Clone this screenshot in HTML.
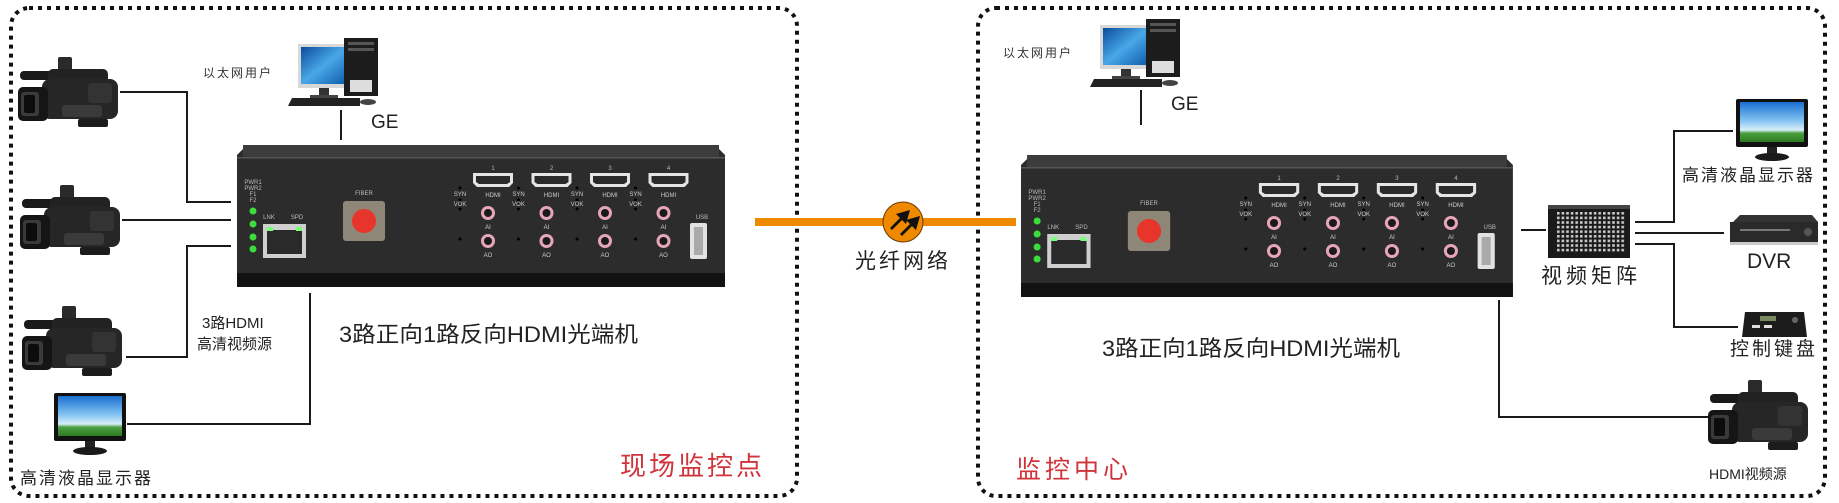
<!DOCTYPE html>
<html><head><meta charset="utf-8"><style>
html,body{margin:0;padding:0;background:#fff;width:1839px;height:503px;overflow:hidden}
svg{display:block}
text{font-family:"Liberation Sans","Noto Sans CJK SC",sans-serif}
.cn{font-family:"Liberation Sans","Noto Sans CJK SC",sans-serif}
</style></head><body>
<svg width="1839" height="503" viewBox="0 0 1839 503" xmlns="http://www.w3.org/2000/svg">
<defs>
<linearGradient id="sky" x1="0" y1="0" x2="0" y2="1">
<stop offset="0" stop-color="#1a6fd0"/><stop offset="0.45" stop-color="#7fc0f0"/><stop offset="0.7" stop-color="#d8eefa"/><stop offset="0.78" stop-color="#4aa040"/><stop offset="1" stop-color="#2d7a20"/>
</linearGradient>
<linearGradient id="pcs" x1="0" y1="0" x2="1" y2="1">
<stop offset="0" stop-color="#0b4c9a"/><stop offset="0.5" stop-color="#49a8e8"/><stop offset="1" stop-color="#0d5aa8"/>
</linearGradient>
<pattern id="dots" x="1557" y="212" width="4.6" height="4.6" patternUnits="userSpaceOnUse"><rect width="2.6" height="2.6" fill="#c8c8c8"/></pattern>
<g id="cam">
<rect x="2" y="14" width="34" height="9" rx="4" fill="#1a1a1a"/>
<rect x="40" y="0" width="14" height="20" rx="2" fill="#2a2a2a"/>
<rect x="30" y="12" width="60" height="16" rx="5" fill="#222"/>
<rect x="24" y="22" width="76" height="40" rx="8" fill="#262626"/>
<rect x="0" y="30" width="30" height="34" rx="5" fill="#151515"/>
<rect x="3" y="35" width="18" height="24" rx="3" fill="#3a3a3a"/>
<rect x="6" y="38" width="11" height="18" rx="2" fill="#0c0c0c"/>
<rect x="44" y="48" width="40" height="12" rx="3" fill="#3a3a3a"/>
<rect x="60" y="62" width="30" height="8" rx="2" fill="#1c1c1c"/>
<rect x="70" y="26" width="24" height="20" rx="3" fill="#333"/>
</g>
<g id="mon">
<rect x="0" y="0" width="72" height="48" rx="2" fill="#111"/>
<rect x="4" y="3" width="64" height="40" fill="url(#sky)"/>
<rect x="31" y="48" width="10" height="7" fill="#222"/>
<ellipse cx="36" cy="58" rx="17" ry="4" fill="#1a1a1a"/>
</g>
<g id="pc">
<rect x="10" y="6" width="52" height="44" fill="#d8d8d8"/>
<rect x="13" y="9" width="46" height="37" fill="url(#pcs)"/>
<rect x="31" y="50" width="10" height="8" fill="#333"/>
<rect x="22" y="57" width="28" height="4" fill="#444"/>
<rect x="56" y="0" width="34" height="58" fill="#1c1c1c"/>
<rect x="60" y="4" width="26" height="3" fill="#555"/>
<rect x="60" y="10" width="26" height="3" fill="#555"/>
<rect x="62" y="42" width="22" height="12" fill="#ddd"/>
<polygon points="0,68 4,60 72,60 72,68" fill="#222"/>
<ellipse cx="80" cy="64" rx="8" ry="3" fill="#444"/>
</g>
<g id="ch">
<polygon points="236,28 276,28 276,38 272,42 240,42 236,38" fill="#e5e5e5"/>
<polygon points="239,31 273,31 273,37 270,39 242,39 239,37" fill="#2a2a2a"/>
<text x="223" y="51" font-size="6" fill="#ccc" text-anchor="middle">SYN</text>
<text x="256" y="52" font-size="6" fill="#ccc" text-anchor="middle">HDMI</text>
<text x="223" y="61" font-size="6" fill="#ccc" text-anchor="middle">VOK</text>
<circle cx="223" cy="43" r="1.5" fill="#000"/><circle cx="223" cy="55" r="1.5" fill="#000"/><circle cx="223" cy="64" r="1.5" fill="#000"/><circle cx="223" cy="94" r="1.5" fill="#000"/>
<circle cx="251" cy="68" r="7" fill="#e6a6b8"/><circle cx="251" cy="68" r="4" fill="#1a1a1a"/>
<circle cx="251" cy="96" r="7" fill="#e6a6b8"/><circle cx="251" cy="96" r="4" fill="#1a1a1a"/>
<text x="251" y="84" font-size="6" fill="#ccc" text-anchor="middle">AI</text>
<text x="251" y="112" font-size="6" fill="#ccc" text-anchor="middle">AO</text>
</g>
<g id="dev">
<polygon points="10,0 478,0 488,10 488,142 0,142 0,10" fill="#2c2c2c"/>
<rect x="6" y="0" width="476" height="12" fill="#3c3c3c"/>
<rect x="0" y="12" width="488" height="1.5" fill="#555"/>
<rect x="0" y="128" width="488" height="14" fill="#121212"/>
<g font-size="6" fill="#bbb" text-anchor="middle">
<text x="16" y="39">PWR1</text><text x="16" y="45">PWR2</text><text x="16" y="51">F1</text><text x="16" y="57">F2</text>
<text x="32" y="74">LNK</text><text x="60" y="74">SPD</text><text x="127" y="50">FIBER</text><text x="465" y="74">USB</text>
<text x="256" y="25">1</text><text x="314.5" y="25">2</text><text x="373" y="25">3</text><text x="431.5" y="25">4</text>
</g>
<g fill="#3ddc3d"><circle cx="16" cy="66" r="3.5"/><circle cx="16" cy="79" r="3.5"/><circle cx="16" cy="92" r="3.5"/><circle cx="16" cy="104" r="3.5"/></g>
<rect x="26" y="79" width="43" height="34" fill="#cfcfcf"/>
<rect x="30" y="85" width="35" height="24" fill="#2a2a2a"/>
<rect x="30" y="82" width="6" height="4" fill="#7f7"/><rect x="59" y="82" width="6" height="4" fill="#7f7"/>
<rect x="106" y="56" width="42" height="40" rx="3" fill="#8e8676"/>
<circle cx="127" cy="76" r="12" fill="#e8352b"/>
<rect x="453" y="78" width="17" height="36" rx="2" fill="#e2e2e2"/>
<rect x="457" y="82" width="9" height="28" fill="#aaa"/>
<use href="#ch"/><use href="#ch" x="58.5"/><use href="#ch" x="117"/><use href="#ch" x="175.5"/>
</g>
</defs>

<rect x="11" y="8" width="786" height="488" rx="18" fill="none" stroke="#111" stroke-width="4" stroke-dasharray="4 5"/>
<rect x="978" y="8" width="847" height="488" rx="18" fill="none" stroke="#111" stroke-width="4" stroke-dasharray="4 5"/>

<g fill="none" stroke="#1a1a1a" stroke-width="2">
<polyline points="120,92 187,92 187,202 231,202"/>
<polyline points="122,220 231,220"/>
<polyline points="231,246 187,246 187,357 126,357"/>
<polyline points="127,424 310,424 310,293"/>
<line x1="341" y1="110" x2="341" y2="140"/>
<line x1="1141" y1="90" x2="1141" y2="125"/>
<polyline points="1499,300 1499,417 1710,417"/>
<line x1="1521" y1="230" x2="1546" y2="230"/>
<polyline points="1635,222 1674,222 1674,131 1733,131"/>
<line x1="1635" y1="233" x2="1724" y2="233"/>
<polyline points="1635,244 1674,244 1674,327 1738,327"/>
</g>

<use href="#cam" x="18" y="57"/>
<use href="#cam" x="20" y="185"/>
<use href="#cam" x="22" y="306"/>
<use href="#cam" x="1708" y="380"/>
<use href="#mon" x="54" y="393"/>
<use href="#mon" x="1736" y="99"/>
<use href="#pc" x="288" y="38"/>
<use href="#pc" x="1090" y="19"/>

<use href="#dev" x="237" y="145"/>
<g transform="translate(1021,155) scale(1.008,1)"><use href="#dev"/></g>

<rect x="755" y="218" width="261" height="8" fill="#ef8a00"/>
<circle cx="903" cy="222" r="20" fill="#ef8a00" stroke="#6a3a00" stroke-width="1"/>
<g fill="#111">
<polygon points="890,228 900,218 896,214 910,210 906,224 902,220 892,230"/>
<polygon points="900,234 910,224 906,220 920,216 916,230 912,226 902,236"/>
</g>

<rect x="1548" y="205" width="82" height="53" fill="#1a1a1a"/>
<rect x="1548" y="205" width="82" height="4" fill="#444"/>
<rect x="1557" y="212" width="69" height="40" fill="url(#dots)"/>

<polygon points="1733,222 1740,215 1812,215 1818,222" fill="#333"/>
<rect x="1730" y="222" width="88" height="20" fill="#2a2a2a"/>
<rect x="1740" y="229" width="50" height="2" fill="#777"/>
<circle cx="1808" cy="232" r="4" fill="#555"/>
<rect x="1730" y="242" width="88" height="3" fill="#ccc"/>

<polygon points="1742,337 1745,312 1804,312 1807,337" fill="#1c1c1c"/>
<rect x="1760" y="316" width="16" height="5" fill="#7a8a60"/>
<rect x="1752" y="325" width="8" height="3" fill="#ddd"/><rect x="1764" y="325" width="8" height="3" fill="#ddd"/>
<circle cx="1795" cy="320" r="3" fill="#666"/>

<g class="cn" fill="#222">
<text x="203" y="77" font-size="12" letter-spacing="2" fill="#333">以太网用户</text>
<text x="1003" y="57" font-size="12" letter-spacing="2" fill="#333">以太网用户</text>
<text x="371" y="128" font-size="19" font-family="Liberation Serif,serif">GE</text>
<text x="1171" y="110" font-size="19" font-family="Liberation Serif,serif">GE</text>
<text x="202" y="328" font-size="15">3路HDMI</text>
<text x="197" y="349" font-size="15">高清视频源</text>
<text x="339" y="342" font-size="22" textLength="299" lengthAdjust="spacingAndGlyphs">3路正向1路反向HDMI光端机</text>
<text x="1102" y="356" font-size="22" textLength="298" lengthAdjust="spacingAndGlyphs">3路正向1路反向HDMI光端机</text>
<text x="20" y="484" font-size="17" letter-spacing="2" textLength="133">高清液晶显示器</text>
<text x="620" y="475" font-size="26" letter-spacing="3" fill="#d0333a">现场监控点</text>
<text x="1016" y="478" font-size="25" letter-spacing="4" fill="#d0333a">监控中心</text>
<text x="855" y="268" font-size="21" letter-spacing="3">光纤网络</text>
<text x="1541" y="283" font-size="21" letter-spacing="4">视频矩阵</text>
<text x="1682" y="181" font-size="17" letter-spacing="2" textLength="133">高清液晶显示器</text>
<text x="1747" y="268" font-size="21">DVR</text>
<text x="1730" y="355" font-size="19" letter-spacing="3">控制键盘</text>
<text x="1709" y="479" font-size="14">HDMI视频源</text>
</g>
</svg>
</body></html>
